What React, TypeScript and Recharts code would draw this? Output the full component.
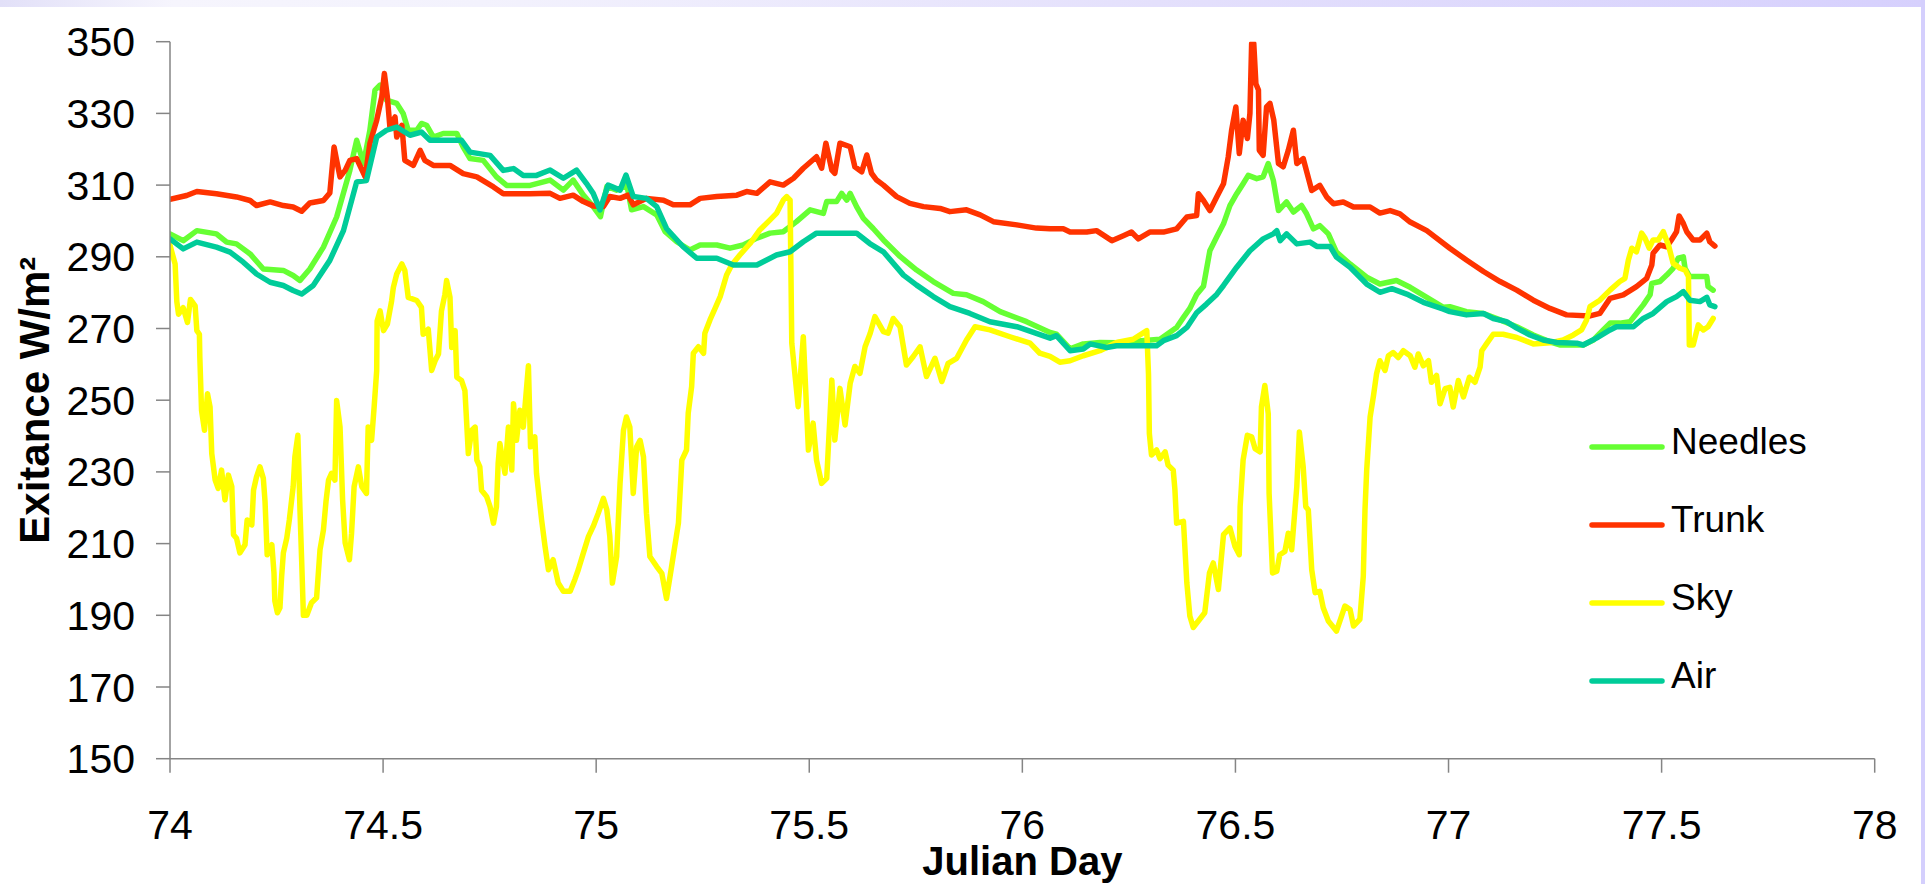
import React from "react";
import { LineChart, Line, XAxis, YAxis } from "recharts";

const FONT = '"Liberation Sans", Arial, Helvetica, sans-serif';

const xTicks = [74, 74.5, 75, 75.5, 76, 76.5, 77, 77.5, 78];
const yTicks = [150, 170, 190, 210, 230, 250, 270, 290, 310, 330, 350];

const needlesSeries: [number, number][] = [
  [74.000,296.4],[74.031,294.5],[74.063,297.3],[74.109,296.4],[74.133,294.1],[74.156,293.6],[74.188,290.8],[74.219,286.6],
  [74.266,286.2],[74.289,284.8],[74.305,283.4],[74.328,286.6],[74.360,292.7],[74.391,301.1],[74.422,314.1],[74.438,322.5],
  [74.454,316.0],[74.469,325.3],[74.481,336.5],[74.493,337.9],[74.508,333.7],[74.532,332.8],[74.547,330.0],[74.559,325.3],
  [74.579,325.3],[74.590,327.2],[74.602,326.7],[74.618,323.4],[74.641,324.4],[74.673,324.4],[74.688,320.6],[74.704,317.4],
  [74.735,316.9],[74.766,312.3],[74.790,309.9],[74.845,309.9],[74.892,311.4],[74.923,308.6],[74.946,311.4],[74.970,307.2],
  [74.993,304.0],[75.010,301.2],[75.025,309.6],[75.048,308.6],[75.072,310.0],[75.083,303.1],[75.111,304.0],[75.142,301.7],
  [75.162,297.0],[75.189,294.2],[75.220,291.9],[75.244,293.3],[75.283,293.3],[75.314,292.4],[75.345,293.3],[75.377,295.2],
  [75.408,296.6],[75.439,297.0],[75.470,299.8],[75.502,303.1],[75.533,302.1],[75.541,305.4],[75.564,305.4],[75.576,307.7],
  [75.588,305.8],[75.596,307.7],[75.611,304.0],[75.627,300.7],[75.650,297.9],[75.674,294.7],[75.713,290.1],[75.752,286.3],
  [75.791,283.1],[75.838,279.8],[75.869,279.4],[75.908,277.5],[75.948,274.7],[76.010,271.9],[76.065,268.9],[76.080,268.4],
  [76.112,264.3],[76.143,265.7],[76.182,266.1],[76.221,266.0],[76.323,267.0],[76.362,270.3],[76.378,273.1],[76.393,275.6],
  [76.409,279.5],[76.425,281.8],[76.440,291.7],[76.456,295.5],[76.472,299.2],[76.487,304.3],[76.503,307.6],[76.518,310.4],
  [76.530,312.7],[76.550,311.8],[76.565,312.3],[76.577,316.0],[76.589,311.3],[76.601,302.9],[76.620,305.3],[76.636,302.5],
  [76.655,304.3],[76.667,302.0],[76.683,297.8],[76.698,298.7],[76.718,296.4],[76.737,291.3],[76.769,288.0],[76.808,284.3],
  [76.839,282.4],[76.878,283.4],[76.910,281.5],[76.949,278.7],[76.988,275.9],[77.003,276.1],[77.042,274.7],[77.082,274.2],
  [77.121,272.4],[77.160,270.5],[77.199,268.2],[77.238,266.3],[77.261,265.4],[77.316,265.4],[77.340,266.8],[77.363,269.6],
  [77.379,271.5],[77.402,271.5],[77.426,271.9],[77.441,274.2],[77.457,276.6],[77.473,279.4],[77.477,282.6],[77.496,283.1],
  [77.512,284.9],[77.527,286.8],[77.539,289.6],[77.551,290.0],[77.555,286.8],[77.566,284.5],[77.582,284.5],[77.606,284.5],
  [77.609,281.7],[77.621,280.7],
];

const trunkSeries: [number, number][] = [
  [74.000,306.0],[74.039,307.1],[74.063,308.2],[74.109,307.6],[74.156,306.7],[74.188,305.7],[74.203,304.3],[74.235,305.3],
  [74.266,304.3],[74.289,303.9],[74.309,302.7],[74.328,305.0],[74.360,305.7],[74.375,307.8],[74.385,320.6],[74.391,316.9],
  [74.399,312.3],[74.411,314.1],[74.422,316.9],[74.438,317.4],[74.458,312.3],[74.469,321.6],[74.485,328.1],[74.497,334.6],
  [74.503,341.1],[74.510,334.6],[74.516,326.2],[74.528,329.0],[74.532,323.4],[74.544,326.7],[74.551,316.9],[74.571,315.5],
  [74.587,319.7],[74.598,316.9],[74.618,315.5],[74.657,315.5],[74.688,313.2],[74.720,312.3],[74.759,309.5],[74.782,307.6],
  [74.845,307.6],[74.892,307.7],[74.915,306.3],[74.946,307.2],[74.970,305.4],[74.993,304.2],[75.017,304.0],[75.032,306.8],
  [75.056,306.3],[75.075,307.2],[75.087,304.5],[75.118,306.3],[75.158,305.8],[75.181,304.5],[75.220,304.5],[75.244,306.3],
  [75.283,306.8],[75.330,307.2],[75.353,308.2],[75.377,307.7],[75.408,310.9],[75.439,310.0],[75.463,311.9],[75.486,314.7],
  [75.517,317.9],[75.529,314.7],[75.539,321.7],[75.553,314.2],[75.560,313.3],[75.572,321.7],[75.596,320.7],[75.607,315.1],
  [75.623,313.7],[75.635,318.4],[75.646,313.3],[75.658,311.4],[75.674,310.0],[75.705,306.8],[75.736,304.9],[75.768,304.0],
  [75.807,303.5],[75.830,302.6],[75.869,303.1],[75.901,301.7],[75.932,299.8],[75.987,298.9],[76.033,298.0],[76.065,297.8],
  [76.096,297.8],[76.112,296.9],[76.151,296.9],[76.174,297.3],[76.210,294.5],[76.237,295.9],[76.256,296.9],[76.272,295.0],
  [76.299,296.9],[76.331,296.9],[76.362,297.8],[76.386,301.1],[76.409,301.5],[76.413,307.6],[76.425,305.7],[76.440,302.9],
  [76.456,306.7],[76.472,310.4],[76.483,317.8],[76.491,325.3],[76.501,331.8],[76.509,318.8],[76.518,328.1],[76.528,323.0],
  [76.534,330.0],[76.538,349.5],[76.543,349.5],[76.548,338.3],[76.554,336.5],[76.556,319.7],[76.565,318.3],[76.573,331.8],
  [76.581,332.8],[76.590,328.1],[76.601,316.0],[76.612,315.1],[76.624,319.7],[76.636,325.3],[76.644,316.0],[76.659,317.4],
  [76.679,308.5],[76.698,309.9],[76.714,306.7],[76.730,304.8],[76.753,305.3],[76.777,303.9],[76.816,303.9],[76.839,302.2],
  [76.863,302.9],[76.886,302.0],[76.910,299.7],[76.949,297.3],[77.003,292.4],[77.042,289.1],[77.082,285.9],[77.121,283.1],
  [77.160,280.7],[77.199,277.9],[77.238,275.6],[77.277,273.8],[77.332,273.5],[77.355,274.2],[77.379,278.4],[77.410,279.4],
  [77.441,281.7],[77.465,284.0],[77.477,287.7],[77.480,291.0],[77.496,293.3],[77.512,292.8],[77.523,294.7],[77.535,297.0],
  [77.541,301.4],[77.551,299.3],[77.559,297.0],[77.574,294.7],[77.590,294.7],[77.606,296.6],[77.613,294.2],[77.625,293.0],
];

const skySeries: [number, number][] = [
  [74.000,293.2],[74.012,288.0],[74.016,277.5],[74.020,274.0],[74.031,275.8],[74.041,271.7],[74.048,278.1],[74.059,276.3],
  [74.063,269.4],[74.069,268.4],[74.070,262.0],[74.074,247.2],[74.081,241.6],[74.088,251.8],[74.094,248.1],[74.098,235.1],
  [74.106,227.7],[74.113,225.4],[74.121,230.5],[74.129,222.2],[74.137,229.1],[74.145,225.9],[74.149,212.5],[74.156,211.5],
  [74.164,207.4],[74.176,209.7],[74.181,216.6],[74.192,215.2],[74.196,224.9],[74.203,228.6],[74.211,231.4],[74.219,228.2],
  [74.223,221.7],[74.228,206.9],[74.239,209.7],[74.244,201.8],[74.246,194.0],[74.252,190.7],[74.258,192.1],[74.262,200.9],
  [74.266,207.4],[74.274,211.5],[74.280,216.6],[74.289,225.9],[74.293,234.2],[74.300,240.2],[74.305,219.4],[74.309,205.0],
  [74.313,190.0],[74.321,190.0],[74.332,193.5],[74.344,194.9],[74.352,208.3],[74.360,213.8],[74.366,221.7],[74.372,227.7],
  [74.379,229.6],[74.387,227.7],[74.391,249.9],[74.399,242.5],[74.405,222.2],[74.411,210.2],[74.421,205.5],[74.426,212.9],
  [74.432,225.9],[74.442,231.4],[74.450,225.9],[74.461,224.0],[74.465,242.5],[74.473,238.8],[74.479,248.1],[74.485,258.3],
  [74.486,272.1],[74.493,274.9],[74.501,269.4],[74.510,271.2],[74.520,277.7],[74.524,281.4],[74.532,285.2],[74.544,288.0],
  [74.551,286.2],[74.559,278.7],[74.579,277.8],[74.590,275.9],[74.594,268.4],[74.606,269.8],[74.614,258.3],[74.622,261.0],
  [74.630,262.9],[74.637,274.9],[74.645,279.5],[74.649,283.4],[74.657,278.7],[74.661,264.7],[74.669,269.4],[74.673,256.4],
  [74.684,255.5],[74.692,252.7],[74.695,246.2],[74.700,235.1],[74.708,241.6],[74.716,242.5],[74.720,233.3],[74.727,231.4],
  [74.731,224.9],[74.743,223.1],[74.751,220.3],[74.759,215.7],[74.766,220.3],[74.770,232.4],[74.774,237.9],[74.786,229.6],
  [74.794,242.5],[74.802,230.5],[74.806,249.0],[74.813,238.8],[74.821,247.2],[74.829,242.5],[74.841,259.6],[74.846,237.0],
  [74.856,239.8],[74.860,229.6],[74.872,216.6],[74.880,209.2],[74.888,202.7],[74.899,205.5],[74.911,199.0],[74.923,196.7],
  [74.939,196.7],[74.950,200.0],[74.958,202.7],[74.970,207.4],[74.982,212.0],[74.993,214.8],[75.005,218.5],[75.017,222.6],
  [75.025,219.4],[75.032,212.0],[75.038,199.0],[75.048,206.4],[75.056,226.8],[75.064,241.6],[75.071,245.3],[75.079,242.5],
  [75.087,224.0],[75.095,237.0],[75.103,238.8],[75.111,234.2],[75.118,218.5],[75.126,206.4],[75.142,203.6],[75.154,201.7],
  [75.165,194.7],[75.177,203.6],[75.193,215.7],[75.201,233.3],[75.212,236.1],[75.216,246.4],[75.224,253.8],[75.228,263.1],
  [75.240,264.9],[75.252,263.1],[75.255,268.7],[75.267,272.4],[75.279,275.6],[75.291,278.9],[75.306,284.9],[75.318,287.7],
  [75.337,290.5],[75.361,293.7],[75.384,297.5],[75.408,300.3],[75.423,302.1],[75.439,305.8],[75.447,306.8],[75.455,305.8],
  [75.459,265.9],[75.474,248.2],[75.486,267.7],[75.498,236.1],[75.509,243.6],[75.517,233.3],[75.529,226.8],[75.541,228.2],
  [75.553,255.6],[75.560,238.9],[75.572,253.3],[75.584,243.1],[75.596,254.7],[75.607,259.4],[75.619,257.5],[75.631,264.9],
  [75.643,268.7],[75.654,273.3],[75.674,269.1],[75.685,268.7],[75.697,272.8],[75.713,270.5],[75.728,259.8],[75.744,262.2],
  [75.760,264.9],[75.775,256.6],[75.795,261.7],[75.811,255.2],[75.826,260.3],[75.846,261.7],[75.869,266.8],[75.889,270.5],
  [75.924,269.6],[75.971,267.7],[76.018,265.9],[76.041,263.1],[76.065,262.2],[76.088,260.6],[76.112,261.0],[76.143,262.4],
  [76.182,263.8],[76.221,266.1],[76.260,267.0],[76.292,269.4],[76.296,257.3],[76.298,240.7],[76.303,234.7],[76.315,236.1],
  [76.323,233.7],[76.335,235.6],[76.342,231.9],[76.354,230.5],[76.358,225.0],[76.362,215.7],[76.378,216.2],[76.386,199.0],
  [76.393,189.8],[76.401,186.6],[76.413,188.4],[76.428,190.7],[76.439,201.8],[76.448,204.6],[76.460,197.2],[76.472,212.5],
  [76.487,214.4],[76.499,209.2],[76.509,206.9],[76.511,220.3],[76.518,233.3],[76.528,240.2],[76.538,239.8],[76.546,236.5],
  [76.558,235.6],[76.561,248.1],[76.569,254.1],[76.577,246.2],[76.579,224.0],[76.587,201.8],[76.597,202.3],[76.604,206.9],
  [76.616,207.8],[76.624,212.9],[76.632,208.3],[76.644,225.9],[76.650,241.1],[76.659,231.4],[76.665,220.3],[76.671,219.4],
  [76.679,202.7],[76.687,196.3],[76.698,196.7],[76.706,192.1],[76.718,188.4],[76.737,185.6],[76.749,189.8],[76.757,192.6],
  [76.769,191.6],[76.777,187.0],[76.792,188.9],[76.800,200.9],[76.804,219.4],[76.808,230.5],[76.816,245.3],[76.824,251.3],
  [76.831,257.3],[76.839,261.0],[76.851,258.3],[76.859,262.4],[76.870,263.3],[76.882,261.9],[76.894,263.8],[76.910,262.4],
  [76.921,259.2],[76.929,262.9],[76.941,259.6],[76.953,261.0],[76.960,255.0],[76.972,256.9],[76.980,249.0],[76.992,253.2],
  [77.003,253.6],[77.011,248.1],[77.023,255.5],[77.035,250.9],[77.049,256.4],[77.062,255.0],[77.074,259.2],[77.078,263.8],
  [77.089,265.7],[77.105,268.4],[77.128,268.4],[77.160,267.5],[77.199,265.7],[77.238,266.0],[77.269,266.8],[77.293,268.2],
  [77.312,269.6],[77.324,272.4],[77.332,276.1],[77.355,277.9],[77.379,280.7],[77.402,283.1],[77.414,284.0],[77.422,289.1],
  [77.430,292.4],[77.441,291.4],[77.453,296.6],[77.461,295.2],[77.471,292.4],[77.480,294.7],[77.492,294.7],[77.504,297.0],
  [77.516,293.3],[77.527,288.2],[77.543,286.8],[77.555,286.3],[77.563,284.5],[77.565,265.4],[77.574,265.4],[77.586,271.0],
  [77.598,269.6],[77.609,270.5],[77.621,272.8],
];

const airSeries: [number, number][] = [
  [74.000,295.0],[74.031,292.2],[74.063,294.1],[74.109,292.7],[74.141,291.3],[74.172,288.5],[74.203,285.2],[74.235,282.9],
  [74.266,282.0],[74.289,280.6],[74.309,279.6],[74.336,282.0],[74.375,289.0],[74.407,297.3],[74.438,310.9],[74.461,311.3],
  [74.485,323.4],[74.508,325.3],[74.532,326.2],[74.563,323.9],[74.590,324.8],[74.610,322.5],[74.657,322.5],[74.684,322.5],
  [74.704,319.2],[74.751,318.3],[74.782,314.1],[74.806,314.6],[74.829,312.7],[74.860,312.7],[74.892,314.2],[74.923,311.9],
  [74.954,314.2],[74.977,310.5],[74.993,307.7],[75.009,303.1],[75.028,310.0],[75.056,308.6],[75.070,312.8],[75.087,306.8],
  [75.118,306.3],[75.142,304.0],[75.165,297.9],[75.204,292.8],[75.236,289.6],[75.283,289.6],[75.322,287.7],[75.377,287.7],
  [75.423,290.5],[75.455,291.4],[75.486,294.2],[75.517,296.6],[75.556,296.6],[75.611,296.6],[75.642,293.7],[75.674,291.4],
  [75.721,284.9],[75.752,282.1],[75.791,278.9],[75.830,276.1],[75.877,274.2],[75.924,271.9],[75.987,270.5],[76.065,267.3],
  [76.080,268.0],[76.112,263.8],[76.143,264.3],[76.159,265.7],[76.198,264.7],[76.221,265.2],[76.315,265.2],[76.331,266.6],
  [76.362,268.0],[76.386,270.3],[76.409,274.4],[76.432,276.8],[76.456,279.5],[76.472,282.0],[76.503,287.1],[76.534,291.7],
  [76.565,295.0],[76.589,296.4],[76.597,297.3],[76.605,294.5],[76.620,296.4],[76.644,293.6],[76.675,294.1],[76.691,292.9],
  [76.722,292.9],[76.737,289.9],[76.769,287.1],[76.808,282.4],[76.839,280.1],[76.867,281.1],[76.902,279.6],[76.941,277.3],
  [76.988,275.4],[77.003,274.7],[77.042,273.8],[77.082,274.2],[77.105,272.8],[77.136,271.9],[77.160,270.1],[77.191,268.2],
  [77.222,266.8],[77.254,266.1],[77.301,265.9],[77.316,265.4],[77.347,267.3],[77.379,269.6],[77.394,270.5],[77.434,270.5],
  [77.457,272.8],[77.480,274.2],[77.512,277.5],[77.535,278.9],[77.551,280.3],[77.566,277.9],[77.590,277.5],[77.606,278.7],
  [77.613,276.6],[77.625,276.1],
];

const seriesNames = ["Needles", "Trunk", "Sky", "Air"];
const seriesColors = ["#66FF33", "#FF3300", "#FFFF00", "#00CC99"];
const seriesData = [needlesSeries, trunkSeries, skySeries, airSeries];

const toRows = (s: [number, number][]) => s.map(([d, v]) => ({ d, v }));

const AXIS_COLOR = "#858585";

function YTitle(props: any) {
  const vb = props.viewBox || { y: 42, height: 717 };
  const cy = vb.y + vb.height / 2;
  const x = 49;
  return (
    <text
      x={x}
      y={cy}
      transform={`rotate(-90, ${x}, ${cy})`}
      textAnchor="middle"
      fontFamily={FONT}
      fontWeight="bold"
      fontSize={42}
      fill="#000"
    >
      Exitance W/m²
    </text>
  );
}

function XTitle(props: any) {
  const vb = props.viewBox || { x: 170, width: 1705 };
  const cx = vb.x + vb.width / 2;
  return (
    <text x={cx} y={875} textAnchor="middle" fontFamily={FONT} fontWeight="bold" fontSize={40} fill="#000">
      Julian Day
    </text>
  );
}

function LegendBox() {
  return (
    <div style={{ position: "absolute", left: 1589, top: 402.7, fontFamily: FONT }}>
      {seriesNames.map((name, i) => (
        <div key={name} style={{ height: 78, display: "flex", alignItems: "center" }}>
          <svg width={76} height={12} style={{ marginTop: 10, display: "block" }}>
            <line x1={3} y1={6} x2={73} y2={6} stroke={seriesColors[i]} strokeWidth={5.5} strokeLinecap="round" />
          </svg>
          <span style={{ marginLeft: 6, fontSize: 37, lineHeight: 1, color: "#000" }}>{name}</span>
        </div>
      ))}
    </div>
  );
}

export default function App() {
  return (
    <div
      style={{
        position: "absolute",
        left: 0,
        top: 0,
        width: 1925,
        height: 884,
        background: "#fff",
        overflow: "hidden",
      }}
    >
      <div
        style={{
          position: "absolute",
          left: 0,
          top: 0,
          width: 1925,
          height: 7,
          background: "linear-gradient(to right, #e2e0f8 0%, #f6f5fd 9%, #f3f2fd 25%, #e4e0fc 60%, #d6d0fd 100%)",
        }}
      />
      <div
        style={{
          position: "absolute",
          left: 1921,
          top: 0,
          width: 4,
          height: 884,
          background: "#d4cffd",
        }}
      />
      <div style={{ position: "absolute", left: 0, top: 0 }}>
        <LineChart width={1925} height={884} margin={{ top: 41.7, right: 50.3, left: 0, bottom: 0 }}>
          <XAxis
            dataKey="d"
            type="number"
            domain={[74, 78]}
            ticks={xTicks}
            interval={0}
            allowDataOverflow
            height={125.3}
            tickSize={14}
            tickMargin={37}
            axisLine={{ stroke: AXIS_COLOR, strokeWidth: 1.5 }}
            tickLine={{ stroke: AXIS_COLOR, strokeWidth: 1.5 }}
            tick={{ fill: "#000", fontSize: 41, fontFamily: FONT }}
            label={<XTitle />}
          />
          <YAxis
            type="number"
            domain={[150, 350]}
            ticks={yTicks}
            interval={0}
            allowDataOverflow
            width={170}
            tickSize={14}
            tickMargin={21}
            axisLine={{ stroke: AXIS_COLOR, strokeWidth: 1.5 }}
            tickLine={{ stroke: AXIS_COLOR, strokeWidth: 1.5 }}
            tick={{ fill: "#000", fontSize: 41, fontFamily: FONT }}
            label={<YTitle />}
          />
          {seriesData.map((s, i) => (
            <Line
              key={seriesNames[i]}
              name={seriesNames[i]}
              data={toRows(s)}
              dataKey="v"
              type="linear"
              stroke={seriesColors[i]}
              strokeWidth={5.5}
              strokeLinejoin="round"
              strokeLinecap="round"
              dot={false}
              activeDot={false}
              isAnimationActive={false}
            />
          ))}
        </LineChart>
      </div>
      <LegendBox />
    </div>
  );
}
